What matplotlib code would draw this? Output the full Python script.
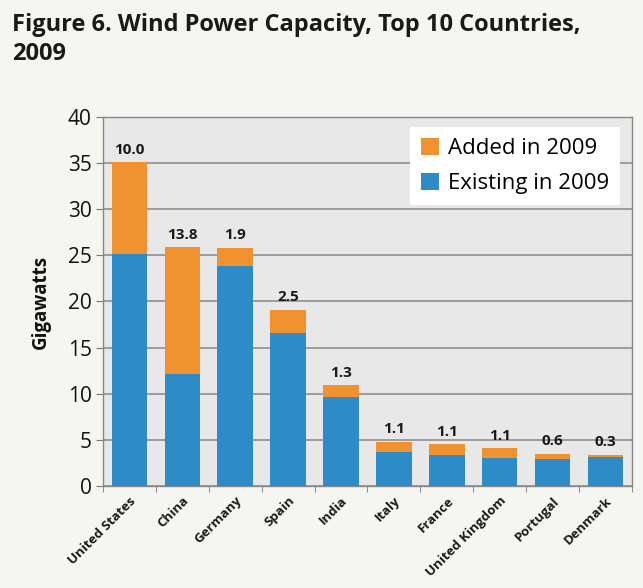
import matplotlib
matplotlib.use("Agg")
import matplotlib.pyplot as plt
import numpy as np

countries = ["United States", "China", "Germany", "Spain", "India",
             "Italy", "France", "United Kingdom", "Portugal", "Denmark"]
existing = [25.1, 12.1, 23.9, 16.6, 9.6, 3.7, 3.4, 3.0, 2.9, 3.1]
added = [10.0, 13.8, 1.9, 2.5, 1.3, 1.1, 1.1, 1.1, 0.6, 0.3]
yticks = [0, 5, 10, 15, 20, 25, 30, 35, 40]

orange = "#EF922F"
blue = "#2D8CC7"
fam = ["Open Sans", "DejaVu Sans"]

fig = plt.figure(figsize=(6.43, 5.88), dpi=100)
fig.patch.set_facecolor("#f5f5f1")
ax = fig.add_axes([0.160, 0.1735, 0.823, 0.6275])
ax.set_facecolor("#e8e8e8")

x = np.arange(len(countries))
ax.bar(x, existing, width=0.67, color=blue, label="Existing in 2009", zorder=3)
ax.bar(x, added, width=0.67, bottom=existing, color=orange, label="Added in 2009", zorder=3)
for xi, e, a in zip(x, existing, added):
    ax.text(xi, e + a + 0.6, f"{a:.1f}", ha="center", va="bottom",
            fontsize=11, fontweight="bold", family=fam, color="#1a1a1a", zorder=4)

ax.set_xlim(-0.5, len(countries) - 0.5)
ax.set_ylim(0, 40)
ax.set_yticks(yticks)
ax.set_yticklabels([str(v) for v in yticks], fontsize=15, family=fam, color="#111111")
ax.yaxis.grid(True, color="#959595", linewidth=1.3, zorder=1)
ax.set_xticks(x)
ax.set_xticklabels(countries, rotation=45, ha="right", rotation_mode="anchor",
                   fontsize=9.5, fontweight="bold", family=fam, color="#1a1a1a")
ax.tick_params(axis="x", length=0, pad=6)
ax.set_xticks(np.arange(-0.5, len(countries), 1), minor=True)
ax.tick_params(axis="x", which="minor", length=4, color="#777777")
ax.tick_params(axis="y", length=5, color="#777777", pad=3)
for s in ax.spines.values():
    s.set_color("#888888")
    s.set_linewidth(1.0)

ax.set_ylabel("Gigawatts", fontsize=13.5, fontweight="bold", family=fam,
              color="#111111", labelpad=12)

handles, labels = ax.get_legend_handles_labels()
leg = ax.legend(handles[::-1], labels[::-1], loc="upper right",
                bbox_to_anchor=(0.977, 0.973), borderaxespad=0,
                prop={"family": fam, "size": 16},
                frameon=True, fancybox=False, edgecolor="white", framealpha=1,
                handlelength=0.8, handleheight=0.8, handletextpad=0.4,
                borderpad=0.5, labelspacing=0.6)
leg.get_frame().set_linewidth(0)

fig.text(0.018, 0.978, "Figure 6. Wind Power Capacity, Top 10 Countries,\n2009",
         ha="left", va="top", fontsize=17, fontweight="bold", family=fam,
         color="#1a1a1a", linespacing=1.3)

fig.savefig("out.png", dpi=100, facecolor=fig.get_facecolor())
